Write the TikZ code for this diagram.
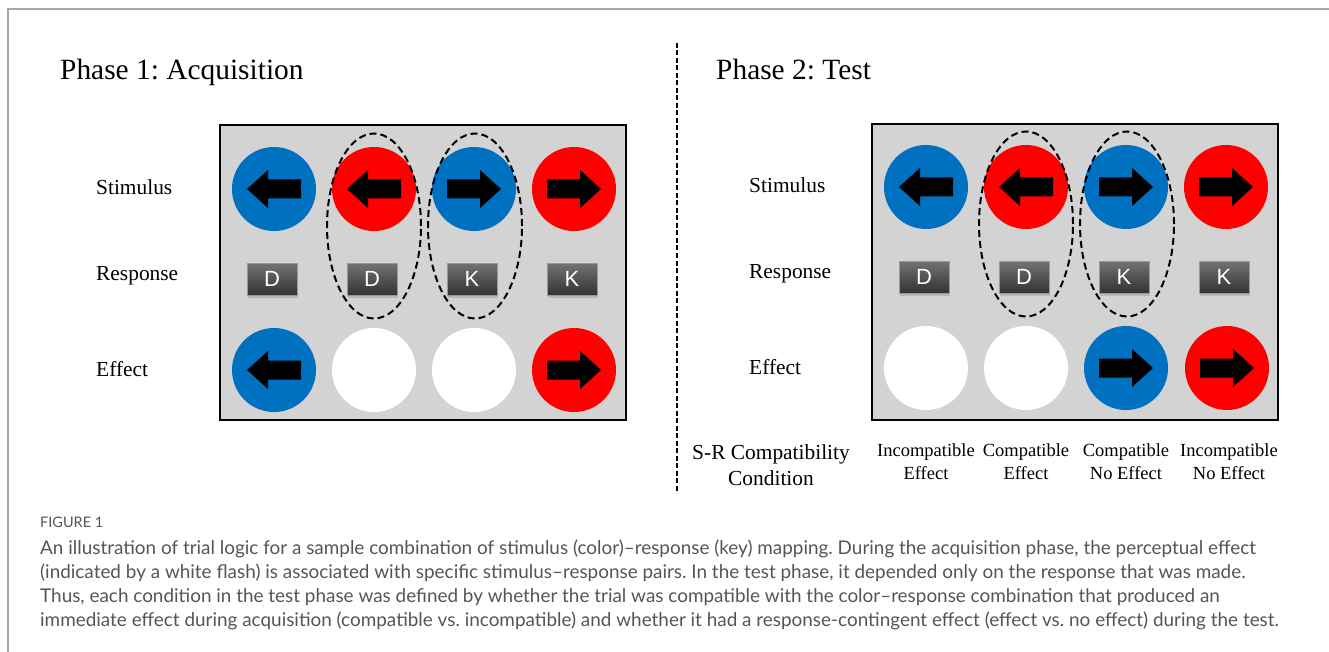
\documentclass[tikz,border=0pt]{standalone}
\usepackage{fontspec}
\setmainfont{Liberation Serif}
\newfontfamily\keyfont{Liberation Sans}
\newfontfamily\capfont{Lato}
\usetikzlibrary{shapes.geometric, shadows, positioning}

\definecolor{stimblue}{HTML}{0070C0}
\definecolor{stimred}{HTML}{FF0000}
\definecolor{panelgray}{HTML}{D3D3D3}
\definecolor{capgray}{HTML}{555555}

% block arrow drawn inside a stimulus disc (points right, xscale=-1 for left)
\tikzset{
  blockarrow/.pic={
    \fill[black] (-27,-9.5) -- (6,-9.5) -- (6,-19) -- (27,0) -- (6,19) -- (6,9.5) -- (-27,9.5) -- cycle;
  },
}

\frenchspacing
\begin{document}
\begin{tikzpicture}[x=1pt, y=-1pt,
  disc/.style={circle, minimum size=84pt, inner sep=0pt},
  keycap/.style={rectangle, minimum width=50pt, minimum height=32pt, inner sep=0pt,
    top color=black!55, bottom color=black!80, draw=black!40, line width=0.6pt,
    text=white, font=\keyfont\fontsize{22}{22}\selectfont,
    drop shadow={opacity=0.35, shadow xshift=1pt, shadow yshift=-3pt}},
  pair/.style={ellipse, draw, dash pattern=on 7pt off 4pt, line width=2pt,
    minimum width=94pt, minimum height=185pt, inner sep=0pt},
  panel/.style={draw, line width=2pt, fill=panelgray, minimum width=406pt,
    minimum height=295pt, inner sep=0pt},
  rowlabel/.style={anchor=west, inner sep=0pt, font=\fontsize{21.4}{26}\selectfont},
  title/.style={anchor=base west, inner sep=0pt, font=\fontsize{29.4}{30}\selectfont},
  condlabel/.style={align=center, inner sep=0pt, font=\fontsize{18.5}{23}\selectfont},
]
\useasboundingbox (0,0) rectangle (1329,652);

% page frame and divider
\draw[black!35, line width=1.5pt] (8,652) -- (8,9) -- (1329,9);
\draw[dash pattern=on 5pt off 2.5pt, line width=2pt] (677,43) -- (677,493);

\node[title] (t1) at (60,80) {Phase 1: Acquisition};
\node[title] (t2) at (716,80) {Phase 2: Test};

%% Phase 1
\node[panel] (box1) at (423,272.5) {};
\node[rowlabel] (stim1) at (96,187) {Stimulus};
\node[rowlabel] (resp1) at (96,276) {Response};
\node[rowlabel] (eff1)  at (96,369) {Effect};

\foreach \i/\col/\dir/\key in {1/stimblue/-1/D, 2/stimred/-1/D, 3/stimblue/1/K, 4/stimred/1/K} {
  \node[disc, fill=\col] (sa\i) at (174+100*\i,189) {};
  \pic[xscale=\dir] at (sa\i) {blockarrow};
  \node[keycap] (ka\i) at (172+100*\i,279) {\key};
}

\node[disc, fill=stimblue] (ea1) at (274,370) {};
\pic[xscale=-1] at (ea1) {blockarrow};
\node[disc, fill=white] (ea2) at (374,370) {};
\node[disc, fill=white] (ea3) at (474,370) {};
\node[disc, fill=stimred] (ea4) at (574,370) {};
\pic at (ea4) {blockarrow};

\node[pair] (pa1) at (374,226) {};
\node[pair] (pa2) at (475,226) {};

%% Phase 2
\node[panel] (box2) at (1075,272) {};
\node[rowlabel] (stim2) at (749,185) {Stimulus};
\node[rowlabel] (resp2) at (749,274) {Response};
\node[rowlabel] (eff2)  at (749,367) {Effect};

\foreach \i/\col/\dir/\key in {1/stimblue/-1/D, 2/stimred/-1/D, 3/stimblue/1/K, 4/stimred/1/K} {
  \node[disc, fill=\col] (sb\i) at (826+100*\i,187) {};
  \pic[xscale=\dir] at (sb\i) {blockarrow};
  \node[keycap] (kb\i) at (824+100*\i,277) {\key};
}

\node[disc, fill=white] (eb1) at (926,368) {};
\node[disc, fill=white] (eb2) at (1026,368) {};
\node[disc, fill=stimblue] (eb3) at (1126,368) {};
\pic at (eb3) {blockarrow};
\node[disc, fill=stimred] (eb4) at (1227,368) {};
\pic at (eb4) {blockarrow};

\node[pair] (pb1) at (1026,224) {};
\node[pair] (pb2) at (1127,224) {};

% condition labels under the test panel
\node[align=center, inner sep=0pt, font=\fontsize{21.4}{26}\selectfont] (srlab) at (771,465) {S-R Compatibility\\Condition};
\node[condlabel] (c1) at (926,462) {Incompatible\\Effect};
\node[condlabel] (c2) at (1026,462) {Compatible\\Effect};
\node[condlabel] (c3) at (1126,462) {Compatible\\No Effect};
\node[condlabel] (c4) at (1229,462) {Incompatible\\No Effect};

% caption
\node[anchor=west, inner sep=0pt, text=capgray, font=\capfont\fontsize{14.5}{14}\selectfont] (fig) at (40,522) {FIGURE 1};
\node[anchor=north west, inner sep=0pt, align=left, text=capgray,
  font=\capfont\fontsize{18.9}{24}\selectfont] (cap) at (40,540)
  {An illustration of trial logic for a sample combination of stimulus (color)–response (key) mapping. During the acquisition phase, the perceptual effect\\
   (indicated by a white flash) is associated with specific stimulus–response pairs. In the test phase, it depended only on the response that was made.\\
   Thus, each condition in the test phase was defined by whether the trial was compatible with the color–response combination that produced an\\
   immediate effect during acquisition (compatible vs. incompatible) and whether it had a response-contingent effect (effect vs. no effect) during the test.};
\end{tikzpicture}
\end{document}
